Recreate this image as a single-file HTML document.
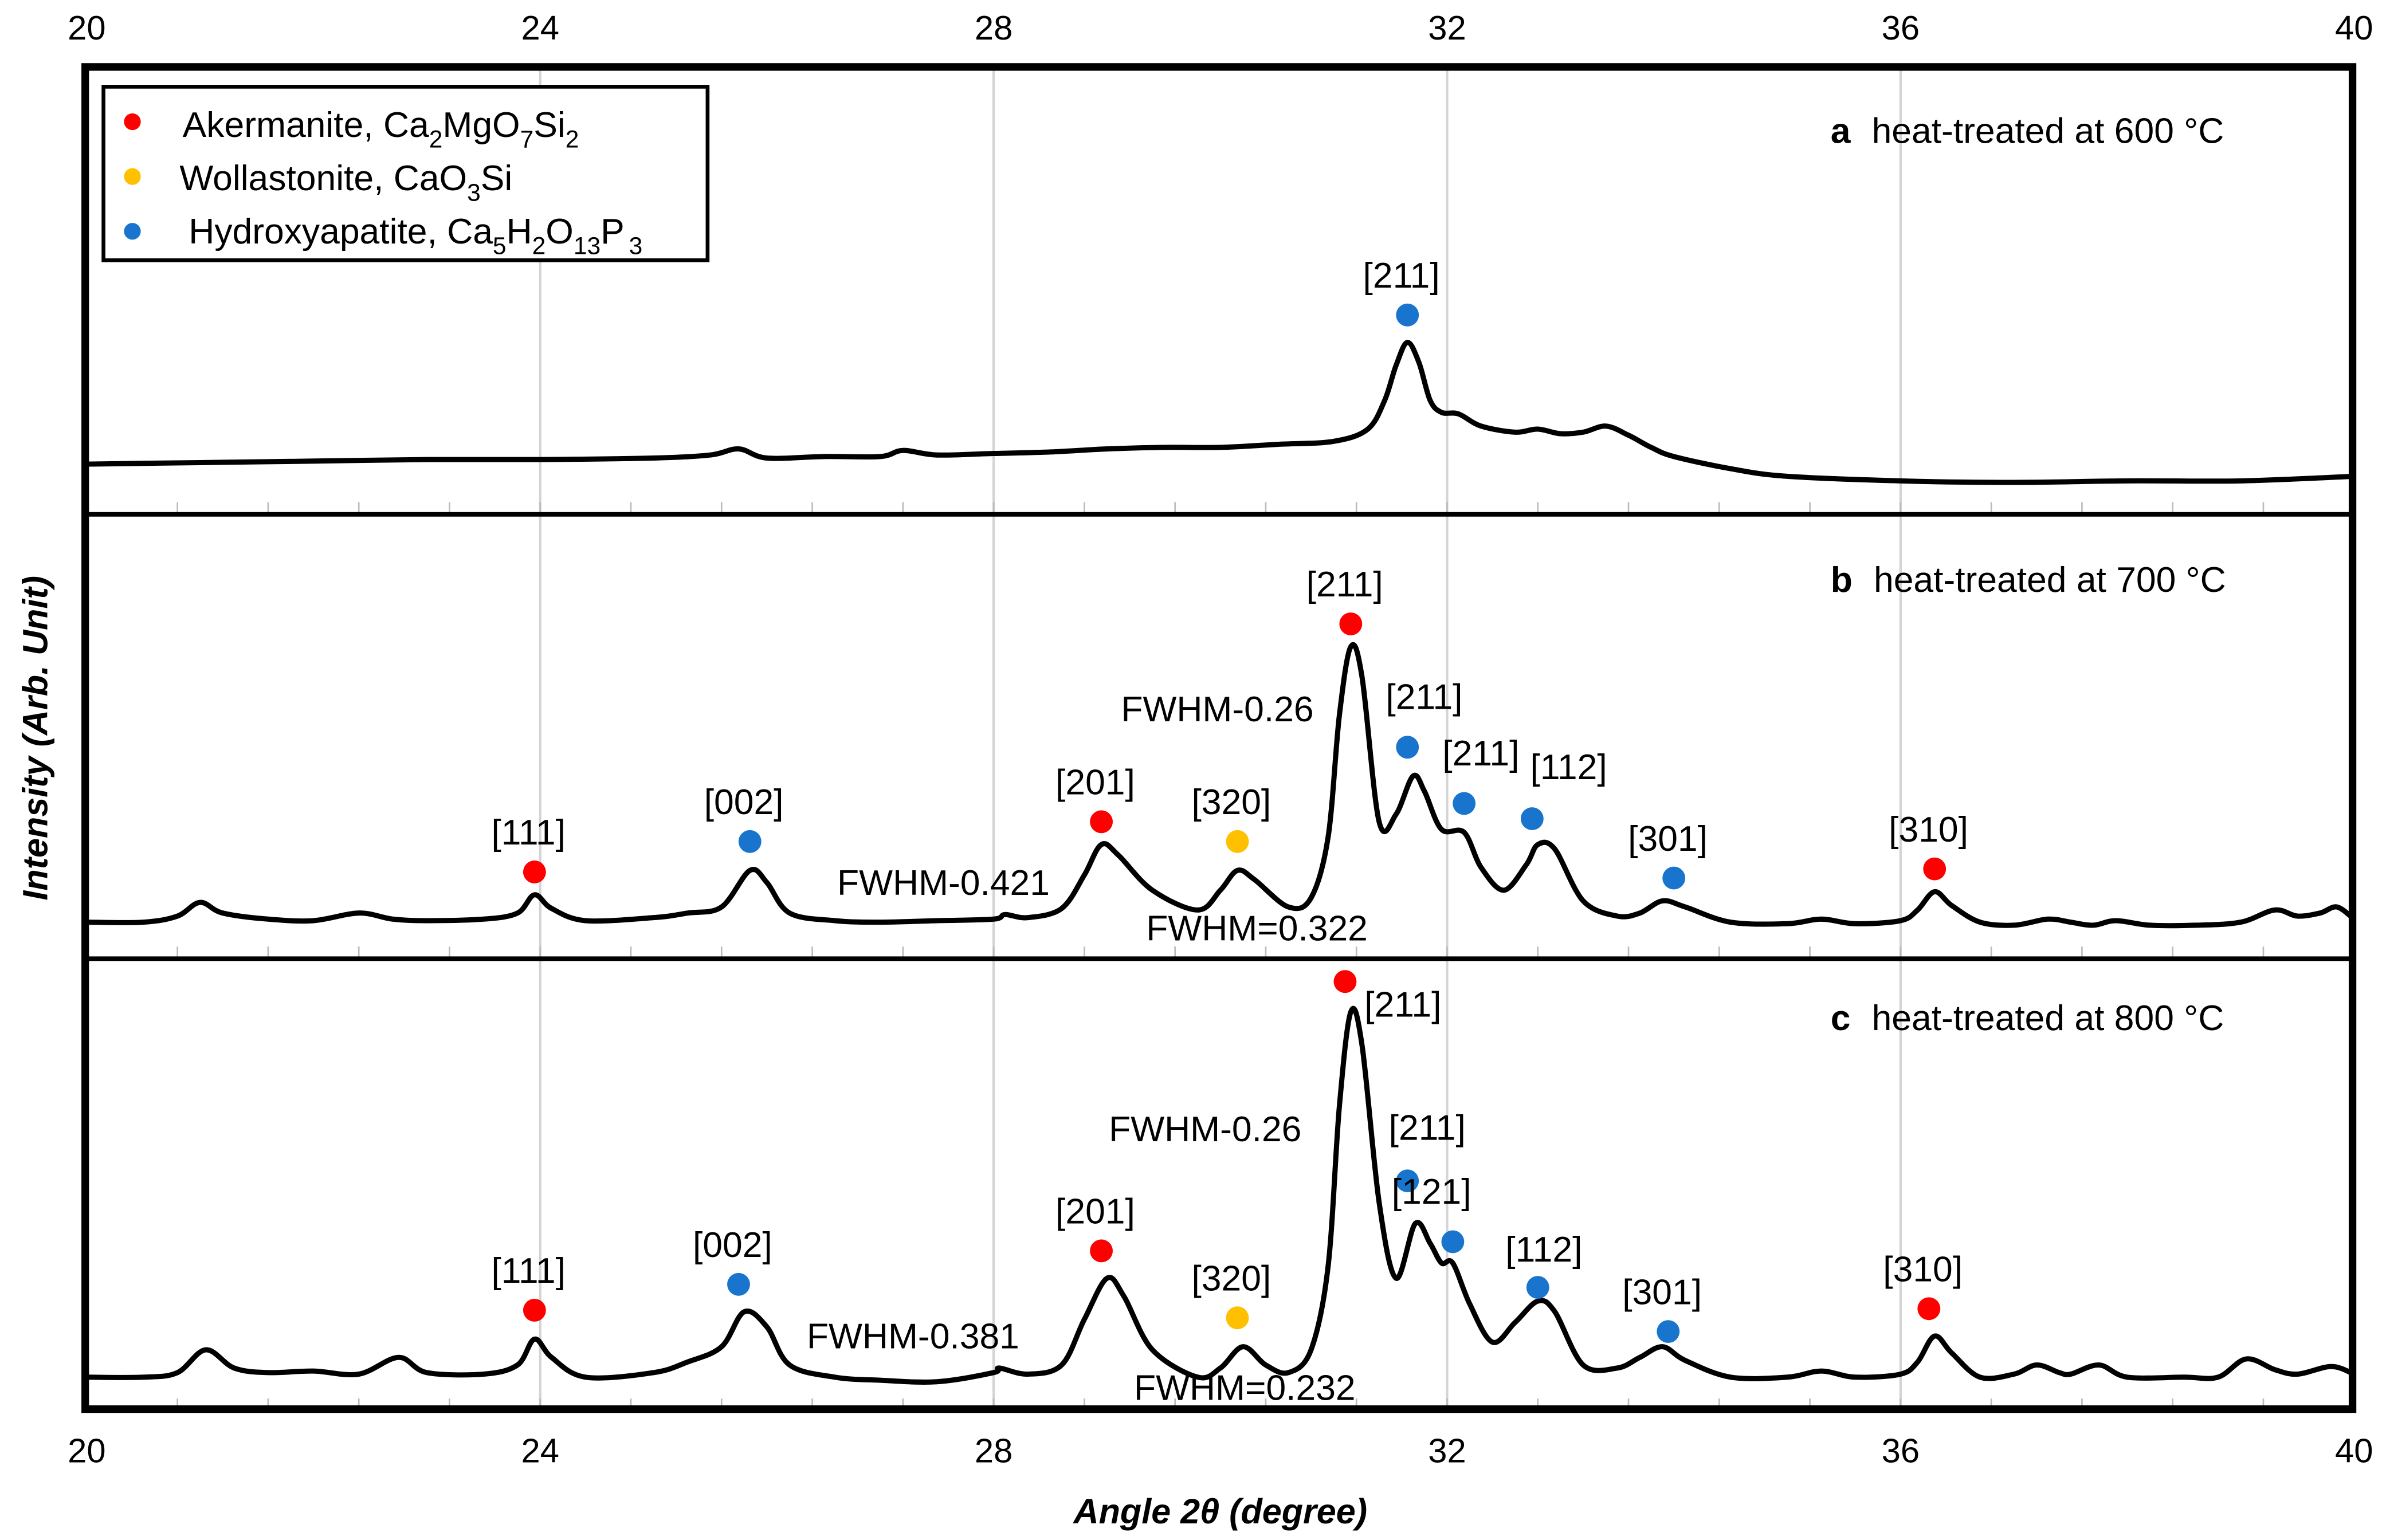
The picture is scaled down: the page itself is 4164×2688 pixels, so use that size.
<!DOCTYPE html>
<html><head><meta charset="utf-8">
<style>
html,body{margin:0;padding:0;background:#fff;}
svg{display:block;}
text{font-family:"Liberation Sans",Arial,sans-serif;fill:#000;}
</style></head>
<body>
<svg id="chart" width="4164" height="2688" viewBox="0 0 1568 1012" preserveAspectRatio="none" xmlns="http://www.w3.org/2000/svg">
<rect x="0" y="0" width="1568" height="1012" fill="#fff"/>
<g id="grid"></g>
<g id="series"></g>
<g id="marks"></g>
<g id="frame"></g>
<g id="labels"></g>
<g id="legend">
  <rect x="68" y="57" width="397" height="114" fill="#fff" stroke="#000" stroke-width="2.5"/>
  <circle cx="87" cy="80" r="5.5" fill="#ff0000"/>
  <text x="120" y="90" font-size="23.5">Akermanite, Ca<tspan font-size="16" dy="7">2</tspan><tspan dy="-7">MgO</tspan><tspan font-size="16" dy="7">7</tspan><tspan dy="-7">Si</tspan><tspan font-size="16" dy="7">2</tspan></text>
  <circle cx="87" cy="116" r="5.5" fill="#ffc000"/>
  <text x="118" y="125" font-size="23.5">Wollastonite, CaO<tspan font-size="16" dy="7">3</tspan><tspan dy="-7">Si</tspan></text>
  <circle cx="87" cy="152" r="5.5" fill="#1874cd"/>
  <text x="124" y="160" font-size="23.5">Hydroxyapatite, Ca<tspan font-size="16" dy="7">5</tspan><tspan dy="-7">H</tspan><tspan font-size="16" dy="7">2</tspan><tspan dy="-7">O</tspan><tspan font-size="16" dy="7">13</tspan><tspan dy="-7">P</tspan><tspan font-size="16" dy="7" dx="3">3</tspan></text>
</g>
</svg>
<script>
// ---- data ----
const xTicks = [20, 24, 28, 32, 36, 40];
const panelNames = ["a", "b", "c"];
const panelTitles = ["heat-treated at 600 °C", "heat-treated at 700 °C", "heat-treated at 800 °C"];
const angleA = [20,21,22,23,24,25,25.5,25.75,26,26.5,27,27.2,27.5,28,28.5,29,29.5,30,30.5,31,31.3,31.45,31.55,31.65,31.75,31.85,31.95,32.1,32.3,32.6,32.8,33.0,33.2,33.4,33.6,33.8,34.0,34.5,35,36,37,38,39,40];
const intA   = [33,34,35,36,36,37,39,43,37,38,38,42,39,40,41,43,44,44,46,48,56,75,98,113,100,75,67,66,58,54,56,53,54,58,52,44,38,30,25,22,21,22,22,25];
const angleB = [20,20.5,20.8,21.0,21.2,21.6,22,22.4,22.7,23,23.5,23.8,23.95,24.1,24.4,25,25.3,25.6,25.85,26.0,26.2,26.6,27,27.5,28,28.1,28.3,28.6,28.8,28.95,29.1,29.4,29.8,30.0,30.15,30.3,30.6,30.8,30.95,31.05,31.15,31.25,31.4,31.55,31.7,31.8,31.95,32.15,32.3,32.5,32.7,32.8,32.95,33.2,33.5,33.7,33.9,34.1,34.5,35,35.3,35.6,36,36.15,36.3,36.45,36.7,37,37.3,37.5,37.7,37.9,38.2,38.6,39,39.3,39.5,39.7,39.85,40];
const intB   = [24,24,28,37,30,26,25,30,26,25,26,30,42,33,25,27,30,34,58,50,30,25,24,25,26,29,27,33,55,75,68,45,32,45,58,52,34,40,80,160,205,185,90,95,120,110,85,83,60,45,62,75,72,38,28,30,38,34,24,23,26,23,25,32,44,35,24,22,26,24,22,25,22,22,24,32,28,30,34,26];
const angleC = [20,20.5,20.8,21.05,21.3,21.6,22,22.4,22.75,23,23.5,23.8,23.95,24.1,24.4,25,25.3,25.6,25.8,26.0,26.2,26.6,27,27.5,28,28.05,28.3,28.6,28.8,29.0,29.15,29.4,29.8,30.0,30.2,30.4,30.6,30.8,30.95,31.05,31.15,31.25,31.4,31.55,31.72,31.85,31.95,32.05,32.2,32.4,32.6,32.8,32.95,33.2,33.5,33.7,33.9,34.1,34.5,35,35.3,35.6,36,36.15,36.3,36.45,36.7,37,37.2,37.4,37.5,37.75,38,38.5,38.8,39.05,39.3,39.5,39.8,40];
const intC   = [22,22,25,40,28,25,26,24,35,25,24,30,47,35,22,25,32,42,65,55,30,22,20,19,25,28,24,30,60,87,75,40,22,28,42,30,25,40,95,200,262,240,137,87,123,110,97,97,70,45,58,72,65,30,28,35,42,33,22,22,26,22,24,32,49,38,22,24,30,25,24,30,22,22,22,34,27,24,29,24];
const angles = [angleA, angleB, angleC];
const intensities = [intA, intB, intC];
const peakPanel = [0,1,1,1,1,1,1,1,1,1,1,2,2,2,2,2,2,2,2,2,2];
const peakAngle = [31.65,23.95,25.85,28.95,30.15,31.15,31.65,32.15,32.75,34.0,36.3,23.95,25.75,28.95,30.15,31.1,31.65,32.05,32.8,33.95,36.25];
const peakInt   = [131,57,77,90,77,220,139,102,92,53,59,66,83,105,61,282,151,111,81,52,67];
const peakPhase = ["H","A","H","A","W","A","H","H","H","H","A","A","H","A","W","A","H","H","H","H","A"];
const peakLabel = ["[211]","[111]","[002]","[201]","[320]","[211]","[211]","[211]","[112]","[301]","[310]","[111]","[002]","[201]","[320]","[211]","[211]","[121]","[112]","[301]","[310]"];
// ---- layout ----
const X0 = 57, X1 = 1547;
const panelBottom = [338, 630, 927];
function xs(a){ return X0 + (a - 20) / 20 * (X1 - X0); }
function ys(p, v){ return panelBottom[p] - v; }
const NS = "http://www.w3.org/2000/svg";
function mk(tag, parent){ const e = document.createElementNS(NS, tag); document.getElementById(parent).appendChild(e); return e; }
const phaseColor = {A:"#ff0000", W:"#ffc000", H:"#1874cd"};

for (const t of xTicks.slice(1, -1)) {
  const l = mk("line", "grid");
  
  
  l.setAttribute("x1", xs(t)); l.setAttribute("x2", xs(t));
  l.setAttribute("y1", 43); l.setAttribute("y2", 927);
  l.setAttribute("stroke", "#d4d4d4"); l.setAttribute("stroke-width", "1.6");
}
for (let p = 0; p < 3; p++) {
  for (let a = 20.8; a < 40; a += 0.8) {
    const l = mk("line", "grid");
    
    
    l.setAttribute("x1", xs(a)); l.setAttribute("x2", xs(a));
    l.setAttribute("y1", panelBottom[p] - 8); l.setAttribute("y2", panelBottom[p]);
    l.setAttribute("stroke", "#bbb"); l.setAttribute("stroke-width", "1");
  }
}
for (let p = 0; p < 3; p++) {
  const P = angles[p].map((a, i) => [xs(a), ys(p, intensities[p][i])]);
  let d = "M" + P[0][0].toFixed(1) + "," + P[0][1].toFixed(1);
  for (let i = 0; i < P.length - 1; i++) {
    const p0 = P[Math.max(0, i - 1)], p1 = P[i], p2 = P[i + 1], p3 = P[Math.min(P.length - 1, i + 2)];
    const c1x = p1[0] + (p2[0] - p0[0]) / 6, c1y = p1[1] + (p2[1] - p0[1]) / 6;
    const c2x = p2[0] - (p3[0] - p1[0]) / 6, c2y = p2[1] - (p3[1] - p1[1]) / 6;
    d += " C" + c1x.toFixed(1) + "," + c1y.toFixed(1) + " " + c2x.toFixed(1) + "," + c2y.toFixed(1) + " " + p2[0].toFixed(1) + "," + p2[1].toFixed(1);
  }
  const path = mk("path", "series");
  
  
  path.setAttribute("d", d);
  path.setAttribute("fill", "none"); path.setAttribute("stroke", "#000");
  path.setAttribute("stroke-width", "3.4"); path.setAttribute("stroke-linejoin", "round");
}
for (let i = 0; i < peakAngle.length; i++) {
  const p = peakPanel[i];
  const c = mk("circle", "marks");
  
  
  c.setAttribute("cx", xs(peakAngle[i])); c.setAttribute("cy", ys(p, peakInt[i]));
  c.setAttribute("r", 7.5); c.setAttribute("fill", phaseColor[peakPhase[i]]);
  const t = mk("text", "marks");
  
  
  let dx = -4, dy = -18;
  if (i === 15) { dx = 38; dy = 23; }
  if (i === 6 || i === 7) { dx = 11; dy = -25; }
  if (i === 8) { dx = 24; dy = -26; }
  if (i === 16) { dx = 13; dy = -27; }
  if (i === 17) { dx = -14; dy = -25; }
  if (i === 18) { dx = 4; dy = -17; }
  t.setAttribute("x", xs(peakAngle[i]) + dx); t.setAttribute("y", ys(p, peakInt[i]) + dy);
  t.setAttribute("text-anchor", "middle"); t.setAttribute("font-size", "23.5");
  t.textContent = peakLabel[i];
}
function line(x1,y1,x2,y2,w,name){
  const l = mk("line","frame");
  
  
  l.setAttribute("x1",x1);l.setAttribute("y1",y1);l.setAttribute("x2",x2);l.setAttribute("y2",y2);
  l.setAttribute("stroke","#000");l.setAttribute("stroke-width",w);
}
const fr = mk("rect","frame");


fr.setAttribute("x",56);fr.setAttribute("y",44);fr.setAttribute("width",1490);fr.setAttribute("height",882);
fr.setAttribute("fill","none");fr.setAttribute("stroke","#000");fr.setAttribute("stroke-width","5");
line(57,338,1547,338,3,"panel-divider");
line(57,630,1547,630,3,"panel-divider");
for (const t of xTicks) {
  for (const y of [26, 961]) {
    const e = mk("text","labels");
    
    
    e.setAttribute("x", xs(t)); e.setAttribute("y", y);
    e.setAttribute("text-anchor","middle"); e.setAttribute("font-size","22.5");
    e.textContent = t;
  }
}
const titleY = [94, 389, 677];
for (let p = 0; p < 3; p++) {
  const e = mk("text","labels");
  
  
  e.setAttribute("x", 1203); e.setAttribute("y", titleY[p]); e.setAttribute("font-size","23.5");
  const b = document.createElementNS(NS,"tspan"); b.setAttribute("font-weight","bold"); b.textContent = panelNames[p];
  const r = document.createElementNS(NS,"tspan"); r.setAttribute("dx","14"); r.textContent = panelTitles[p];
  e.appendChild(b); e.appendChild(r);
}
const fwhmText = ["FWHM-0.26","FWHM-0.421","FWHM=0.322","FWHM-0.26","FWHM-0.381","FWHM=0.232"];
const fwhmX = [800,620,826,792,600,818];
const fwhmY = [474,588,618,750,886,920];
for (let i = 0; i < fwhmText.length; i++) {
  const e = mk("text","labels");
  
  
  e.setAttribute("x", fwhmX[i]); e.setAttribute("y", fwhmY[i]);
  e.setAttribute("text-anchor","middle"); e.setAttribute("font-size","23.5");
  e.textContent = fwhmText[i];
}
const xt = mk("text","labels");


xt.setAttribute("x",802);xt.setAttribute("y",1001);xt.setAttribute("text-anchor","middle");
xt.setAttribute("font-size","23");xt.setAttribute("font-weight","bold");xt.setAttribute("font-style","italic");
xt.textContent = "Angle 2θ (degree)";
const yt = mk("text","labels");


yt.setAttribute("transform","translate(31,485) rotate(-90)");yt.setAttribute("text-anchor","middle");
yt.setAttribute("font-size","23");yt.setAttribute("font-weight","bold");yt.setAttribute("font-style","italic");
yt.textContent = "Intensity (Arb. Unit)";
</script>
</body></html>
